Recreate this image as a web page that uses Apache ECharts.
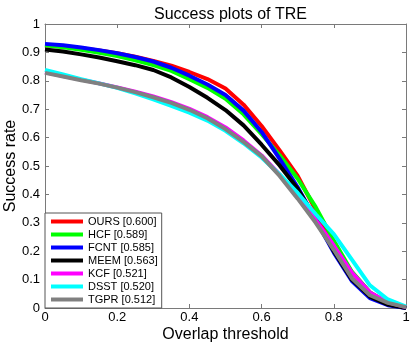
<!DOCTYPE html>
<html>
<head>
<meta charset="utf-8">
<script src="https://cdn.jsdelivr.net/npm/echarts@6/dist/echarts.min.js"></script>
<style>
html,body{margin:0;padding:0;background:#fff;}
#c{width:415px;height:342px;}
</style>
</head>
<body>
<div id="c"></div>
<script>
var thresholds = [0,0.05,0.1,0.15,0.2,0.25,0.3,0.35,0.4,0.45,0.5,0.55,0.6,0.65,0.7,0.75,0.8,0.85,0.9,0.95,1];
var trackerNames = ['OURS','HCF','FCNT','MEEM','KCF','DSST','TGPR'];
var trackerScores = ['0.600','0.589','0.585','0.563','0.521','0.520','0.512'];
var ours = [0.925,0.921,0.915,0.907,0.897,0.885,0.870,0.853,0.831,0.806,0.773,0.716,0.641,0.555,0.465,0.345,0.225,0.125,0.055,0.018,0.002];
var hcf  = [0.925,0.918,0.909,0.899,0.887,0.872,0.855,0.835,0.806,0.775,0.737,0.682,0.612,0.538,0.455,0.355,0.238,0.128,0.055,0.016,0.001];
var fcnt = [0.930,0.925,0.917,0.908,0.897,0.884,0.868,0.846,0.818,0.787,0.750,0.695,0.620,0.525,0.425,0.310,0.195,0.095,0.035,0.010,0.000];
var meem = [0.910,0.903,0.893,0.882,0.869,0.855,0.838,0.812,0.778,0.740,0.697,0.643,0.575,0.502,0.420,0.315,0.200,0.100,0.040,0.012,0.000];
var kcf  = [0.830,0.817,0.804,0.791,0.777,0.762,0.745,0.725,0.701,0.672,0.636,0.590,0.537,0.470,0.392,0.310,0.220,0.125,0.055,0.020,0.003];
var dsst = [0.838,0.822,0.806,0.791,0.775,0.756,0.735,0.712,0.688,0.660,0.624,0.580,0.530,0.470,0.405,0.330,0.260,0.170,0.080,0.030,0.005];
var tgpr = [0.828,0.815,0.802,0.790,0.776,0.760,0.742,0.722,0.698,0.668,0.630,0.585,0.535,0.465,0.385,0.300,0.205,0.105,0.045,0.018,0.003];
var xTickLabels = ['0','0.2','0.4','0.6','0.8','1'];
var yTickLabels = ['0','0.1','0.2','0.3','0.4','0.5','0.6','0.7','0.8','0.9','1'];

var allValues = [ours,hcf,fcnt,meem,kcf,dsst,tgpr];
var colors = ['#ff0000','#00ff00','#0000ff','#000000','#ff00ff','#00ffff','#808080'];
var axisColor = '#7a7a7a';
var font = 'Liberation Sans, Arial, Helvetica, sans-serif';

var series = trackerNames.map(function(n,i){
  return {
    name: n + ' [' + trackerScores[i] + ']',
    type: 'line',
    data: thresholds.map(function(t,j){ return [t, allValues[i][j]]; }),
    showSymbol: false,
    symbol: 'none',
    smooth: false,
    color: colors[i],
    lineStyle: {width: 4, color: colors[i]},
    z: 2 + i,
    animation: false
  };
});

var chart = echarts.init(document.getElementById('c'), null, {renderer:'canvas'});
chart.setOption({
  backgroundColor: '#ffffff',
  animation: false,
  title: {
    text: 'Success plots of TRE',
    left: 225.5, textAlign: 'center', top: 2,
    textStyle: {fontFamily: font, fontSize: 16, fontWeight: 'normal', color: '#000'}
  },
  grid: {left: 45, right: 9, top: 24, bottom: 34, containLabel: false, outerBoundsMode: 'none'},
  legend: {
    orient: 'vertical',
    left: 45, bottom: 34,
    icon: 'rect',
    itemWidth: 32, itemHeight: 4,
    itemGap: 0,
    itemTextGap: 6,
    padding: [2, 4, 2, 6],
    backgroundColor: '#ffffff',
    borderColor: '#555',
    borderWidth: 1,
    borderRadius: 0,
    textStyle: {fontFamily: font, fontSize: 11, color: '#000', lineHeight: 13},
    z: 20
  },
  xAxis: [{
    type: 'value', min: 0, max: 1, interval: 0.2,
    name: 'Overlap threshold', nameLocation: 'middle', nameGap: 19, nameMoveOverlap: false,
    nameTextStyle: {fontFamily: font, fontSize: 16, color: '#000'},
    axisLine: {show: true, onZero: false, lineStyle: {color: axisColor, width: 1}},
    axisTick: {show: true, inside: true, length: 4, lineStyle: {color: axisColor}},
    axisLabel: {fontFamily: font, fontSize: 13, color: '#000', margin: 3, hideOverlap: false,
      formatter: function(v){ return xTickLabels[Math.round(v*5)]; }},
    splitLine: {show: false}
  },{
    type: 'value', min: 0, max: 1, interval: 0.2, position: 'top',
    axisLine: {show: true, onZero: false, lineStyle: {color: axisColor, width: 1}},
    axisTick: {show: true, inside: true, length: 4, lineStyle: {color: axisColor}},
    axisLabel: {show: false}, splitLine: {show: false}
  }],
  yAxis: [{
    type: 'value', min: 0, max: 1, interval: 0.1,
    name: 'Success rate', nameLocation: 'middle', nameGap: 26, nameRotate: 90, nameMoveOverlap: false,
    nameTextStyle: {fontFamily: font, fontSize: 16, color: '#000'},
    axisLine: {show: true, onZero: false, lineStyle: {color: axisColor, width: 1}},
    axisTick: {show: true, inside: true, length: 4, lineStyle: {color: axisColor}},
    axisLabel: {fontFamily: font, fontSize: 13, color: '#000', margin: 5, hideOverlap: false,
      formatter: function(v){ return yTickLabels[Math.round(v*10)]; }},
    splitLine: {show: false}
  },{
    type: 'value', min: 0, max: 1, interval: 0.1, position: 'right',
    axisLine: {show: true, onZero: false, lineStyle: {color: axisColor, width: 1}},
    axisTick: {show: true, inside: true, length: 4, lineStyle: {color: axisColor}},
    axisLabel: {show: false}, splitLine: {show: false}
  }],
  series: series
});
</script>
</body>
</html>
